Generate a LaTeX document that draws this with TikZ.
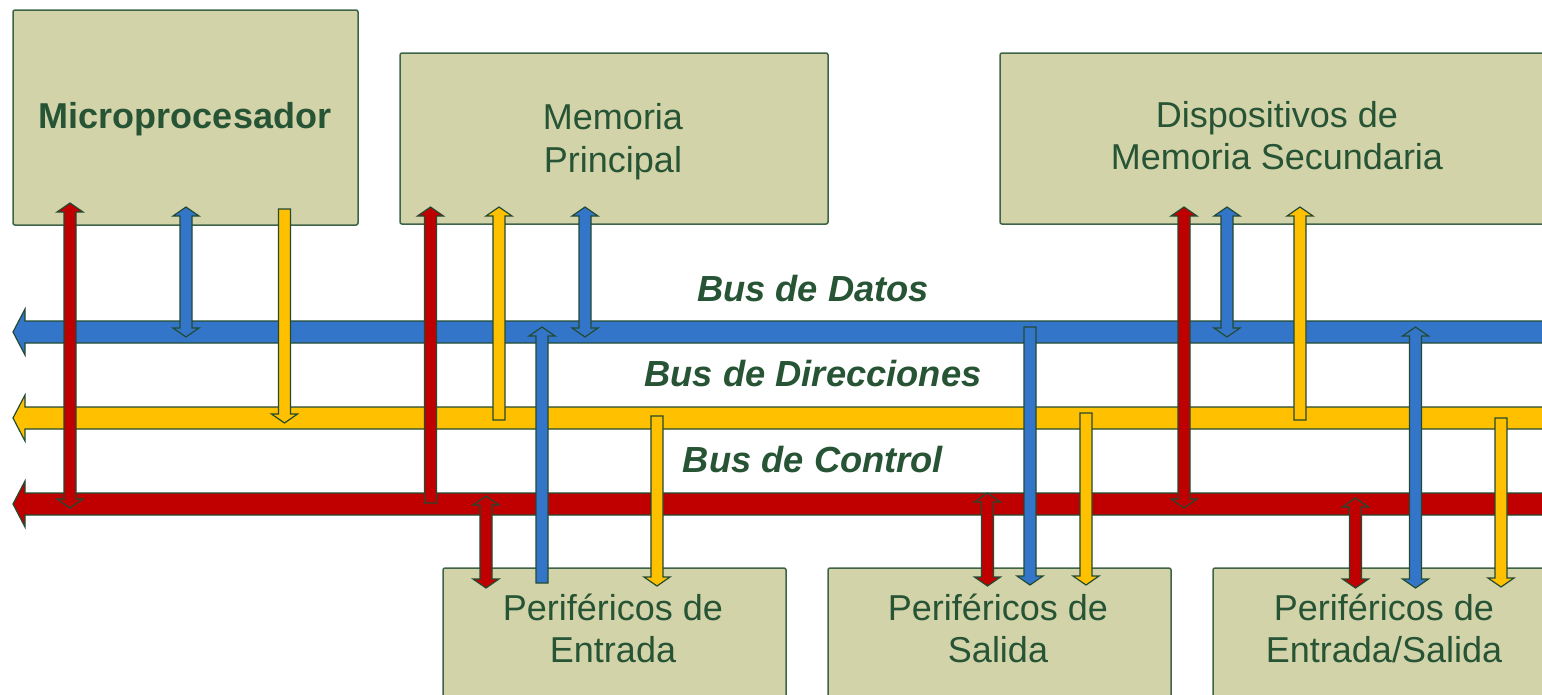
\documentclass[tikz,border=0pt]{standalone}
\usepackage{fontspec}
\setmainfont{Liberation Sans}
\definecolor{boxfill}{RGB}{211,211,170}
\definecolor{boxline}{RGB}{62,100,72}
\definecolor{txt}{RGB}{38,84,52}
\definecolor{busblue}{RGB}{51,117,201}
\definecolor{busyel}{RGB}{255,192,0}
\definecolor{busred}{RGB}{192,0,0}
\definecolor{edge}{RGB}{35,75,50}
\tikzset{
  unitbox/.style={draw=boxline, fill=boxfill, line width=1.5pt, rounded corners=2pt, anchor=north west, inner sep=0pt, outer sep=0pt},
  lbl/.style={text=txt, font=\fontsize{36}{42}\selectfont, anchor=base, inner sep=0pt},
  boldlbl/.style={lbl, font=\fontsize{36}{42}\selectfont\bfseries},
  buslbl/.style={lbl, font=\fontsize{36.3}{42}\selectfont\bfseries\itshape},
  blockarrow/.style={draw=edge, line width=1.2pt, line join=miter},
}
% vertical block arrows: x, y of top end, y of bottom end, colour
\newcommand{\arrDbl}[4]{%
  \filldraw[blockarrow, fill=#4] ({#1-6},{#2+9}) -- ({#1-13},{#2+9}) -- (#1,#2) -- ({#1+13},{#2+9}) -- ({#1+6},{#2+9})
    -- ({#1+6},{#3-9}) -- ({#1+13},{#3-9}) -- (#1,#3) -- ({#1-13},{#3-9}) -- ({#1-6},{#3-9}) -- cycle;}
\newcommand{\arrUp}[4]{%
  \filldraw[blockarrow, fill=#4] ({#1-6},{#2+9}) -- ({#1-13},{#2+9}) -- (#1,#2) -- ({#1+13},{#2+9}) -- ({#1+6},{#2+9})
    -- ({#1+6},#3) -- ({#1-6},#3) -- cycle;}
\newcommand{\arrDn}[4]{%
  \filldraw[blockarrow, fill=#4] ({#1-6},#2) -- ({#1+6},#2) -- ({#1+6},{#3-9}) -- ({#1+13},{#3-9}) -- (#1,#3)
    -- ({#1-13},{#3-9}) -- ({#1-6},{#3-9}) -- cycle;}
% horizontal bus: y centre, colour
\newcommand{\busarrow}[2]{%
  \filldraw[blockarrow, fill=#2] (13,#1) -- (25,{#1-23}) -- (25,{#1-11}) -- (1570,{#1-11}) -- (1570,{#1+11})
    -- (25,{#1+11}) -- (25,{#1+23}) -- cycle;}
\begin{document}
\begin{tikzpicture}[x=1pt,y=-1pt]
\path[use as bounding box] (0,0) rectangle (1542,694);
\clip (0,0) rectangle (1542,694);
\fill[white] (0,0) rectangle (1542,694);
% boxes
\node[unitbox, minimum width=345pt, minimum height=215pt] (micro) at (13,10) {};
\node[unitbox, minimum width=428pt, minimum height=171pt] (mem) at (400,53) {};
\node[unitbox, minimum width=570pt, minimum height=171pt] (sec) at (1000,53) {};
\node[unitbox, minimum width=343pt, minimum height=160pt] (pin) at (443,568) {};
\node[unitbox, minimum width=343pt, minimum height=160pt] (pout) at (828,568) {};
\node[unitbox, minimum width=360pt, minimum height=160pt] (pio) at (1213,568) {};
% box texts
\node[boldlbl] (t1) at (185,128) {Microprocesador};
\node[lbl] (t2a) at (613,129) {Memoria};
\node[lbl] (t2b) at (613,172) {Principal};
\node[lbl] (t3a) at (1277,127) {Dispositivos de};
\node[lbl] (t3b) at (1277,169) {Memoria Secundaria};
\node[lbl] (t4a) at (613,620) {Periféricos de};
\node[lbl] (t4b) at (613,662) {Entrada};
\node[lbl] (t5a) at (998,620) {Periféricos de};
\node[lbl] (t5b) at (998,662) {Salida};
\node[lbl] (t6a) at (1384,620) {Periféricos de};
\node[lbl] (t6b) at (1384,662) {Entrada/Salida};
% buses
\busarrow{332}{busblue}
\busarrow{418}{busyel}
\busarrow{504}{busred}
\node[buslbl] (b1) at (813,301) {Bus de Datos};
\node[buslbl] (b2) at (813,386) {Bus de Direcciones};
\node[buslbl] (b3) at (813,472) {Bus de Control};
% Microprocesador
\arrDbl{70}{203}{508}{busred}
\arrDbl{186}{207}{337}{busblue}
\arrDn{284.5}{209}{423}{busyel}
% Memoria principal
\arrUp{430.5}{207}{503}{busred}
\arrUp{499}{207}{420}{busyel}
\arrDbl{585}{207}{337}{busblue}
% Perifericos de entrada
\arrDbl{486}{496}{588}{busred}
\arrUp{542}{327}{583}{busblue}
\arrDn{657}{416}{586}{busyel}
% Perifericos de salida
\arrDbl{987.5}{493}{586}{busred}
\arrDn{1030}{327}{585}{busblue}
\arrDn{1086}{413}{585}{busyel}
% Memoria secundaria
\arrDbl{1184}{207}{508}{busred}
\arrDbl{1227}{207}{337}{busblue}
\arrUp{1300}{207}{420}{busyel}
% Perifericos de entrada/salida
\arrDbl{1355.5}{498}{588}{busred}
\arrDbl{1415.5}{327}{588}{busblue}
\arrDn{1501}{418}{587}{busyel}
\end{tikzpicture}
\end{document}
